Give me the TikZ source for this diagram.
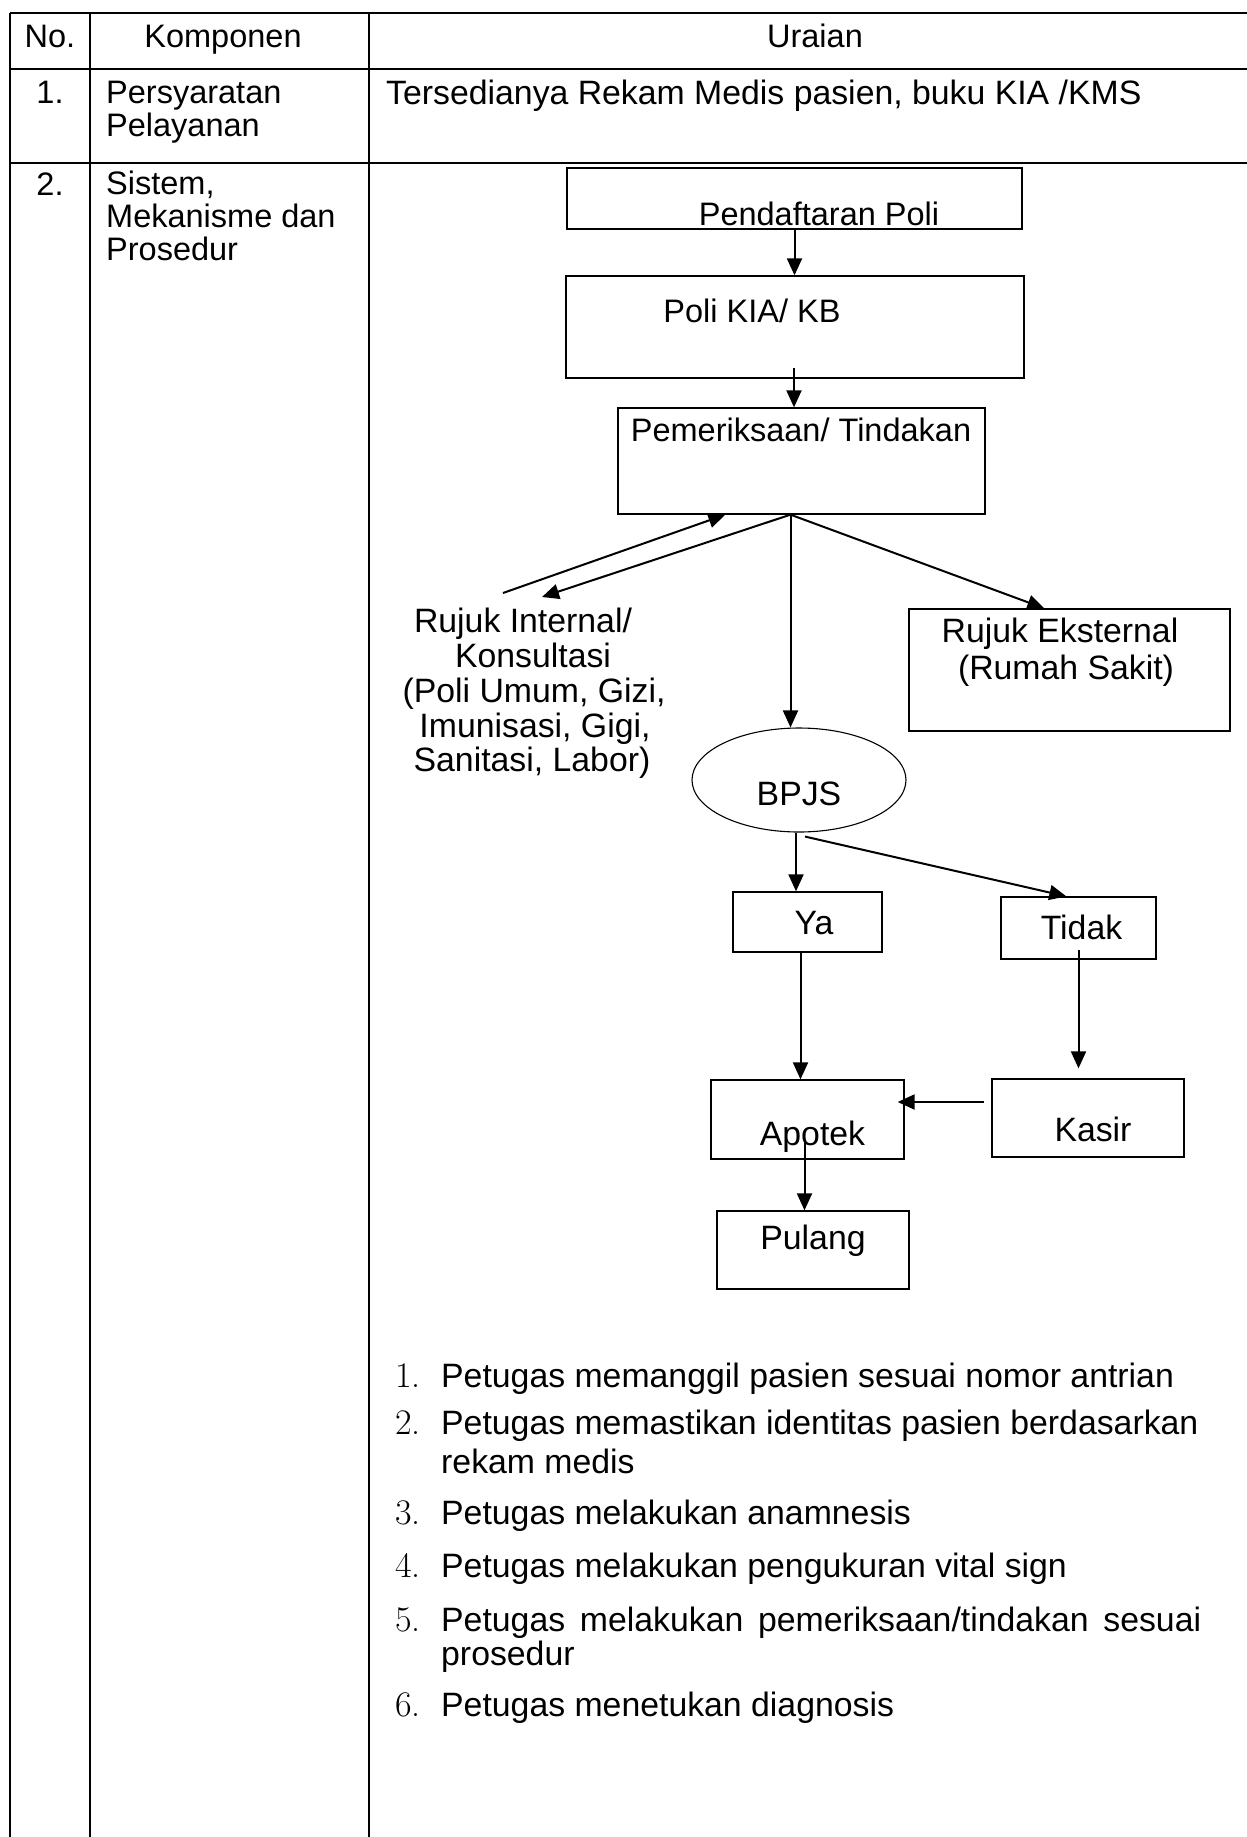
\documentclass[tikz,border=0pt]{standalone}
\usepackage{fontspec}
\setmainfont{Liberation Sans}
\newfontfamily\numfont{Latin Modern Roman}
\usetikzlibrary{arrows.meta,shapes.geometric,calc}
\begin{document}
\begin{tikzpicture}[x=1pt,y=-1pt,
  tline/.style={line width=2pt},
  box/.style={draw, line width=1.3pt, rectangle, inner sep=0pt},
  txt/.style={inner sep=0pt, anchor=base, font=\fontsize{32.5}{34}\selectfont},
  btxt/.style={txt, font=\fontsize{33.8}{35}\selectfont},
  ltxt/.style={txt, anchor=base west},
  bltxt/.style={btxt, anchor=base west},
  numtxt/.style={inner sep=0pt, anchor=base west, font=\fontsize{36}{36}\numfont},
  arr/.style={line width=2pt, -{Triangle[length=17pt,width=15pt]}},
]
\useasboundingbox (0,0) rectangle (1247,1837);
\fill[white] (0,0) rectangle (1247,1837);

% table lines
\draw[tline] (10,13) -- (1247,13);
\draw[tline] (10,69) -- (1247,69);
\draw[tline] (10,163) -- (1247,163);
\draw[tline] (10,13) -- (10,1837);
\draw[tline] (90,13) -- (90,1837);
\draw[tline] (369,13) -- (369,1837);

% header
\node[txt] (hno) at (50,47) {No.};
\node[txt] (hkomp) at (223,47) {Komponen};
\node[txt] (hur) at (815,47) {Uraian};

% row 1
\node[txt] (n1) at (50,103) {1.};
\node[ltxt] (k1a) at (106,103) {Persyaratan};
\node[ltxt] (k1b) at (106,136) {Pelayanan};
\node[bltxt] (u1) at (386,104) {Tersedianya Rekam Medis pasien, buku KIA /KMS};

% row 2
\node[txt] (n2) at (50,195) {2.};
\node[ltxt] (k2a) at (106,194) {Sistem,};
\node[ltxt] (k2b) at (106,227) {Mekanisme dan};
\node[ltxt] (k2c) at (106,260) {Prosedur};

% flowchart boxes
\node[box, minimum width=455pt, minimum height=61pt] (pend) at (794.5,198.5) {};
\node[box, minimum width=458pt, minimum height=102pt] (poli) at (795,327) {};
\node[box, minimum width=367pt, minimum height=106pt] (peme) at (801.5,461) {};
\node[box, minimum width=321pt, minimum height=122pt] (ekst) at (1069.5,670) {};
\node[draw, line width=1.1pt, ellipse, inner sep=0pt, minimum width=214pt, minimum height=104pt] (bpjs) at (799,780) {};
\node[box, minimum width=149pt, minimum height=60pt] (ya) at (807.5,922) {};
\node[box, minimum width=155pt, minimum height=62pt] (tidak) at (1078.5,928) {};
\node[box, minimum width=193pt, minimum height=79pt] (apotek) at (807.5,1119.5) {};
\node[box, minimum width=192pt, minimum height=78pt] (kasir) at (1088,1118) {};
\node[box, minimum width=192pt, minimum height=78pt] (pulang) at (813,1250) {};

% flowchart texts
\node[txt] (tpend) at (819,225) {Pendaftaran Poli};
\node[txt] (tpoli) at (752,322) {Poli KIA/ KB};
\node[txt] (tpeme) at (801,441) {Pemeriksaan/ Tindakan};
\node[btxt] (ri1) at (523,632) {Rujuk Internal/};
\node[btxt] (ri2) at (533,667) {Konsultasi};
\node[btxt] (ri3) at (534,702) {(Poli Umum, Gizi,};
\node[btxt] (ri4) at (535,737) {Imunisasi, Gigi,};
\node[btxt] (ri5) at (532,771) {Sanitasi, Labor)};
\node[btxt] (te1) at (1060,642) {Rujuk Eksternal};
\node[btxt] (te2) at (1066,679) {(Rumah Sakit)};
\node[btxt] (tbpjs) at (799,805) {BPJS};
\node[btxt] (tya) at (814,934) {Ya};
\node[btxt] (ttidak) at (1081.5,939) {Tidak};
\node[btxt] (tapotek) at (812.5,1145) {Apotek};
\node[btxt] (tkasir) at (1093,1141) {Kasir};
\node[btxt] (tpulang) at (813,1249) {Pulang};

% free ends near Rujuk Internal text
\coordinate (rin) at (542,597);
\coordinate (rout) at (503,593);
\coordinate (split) at ([xshift=-11pt]peme.south);

% connectors
\draw[arr] (pend.south) -- (pend.south |- poli.north);
\draw[arr] ([xshift=-1pt,yshift=11pt]poli.south) -- ([xshift=-1pt]poli.south |- peme.north);
\draw[arr] (split) -- (rin);
\draw[arr] (rout) -- ([xshift=108pt]peme.south west);
\draw[arr] (split) -- (split |- bpjs.north);
\draw[arr] (split) -- ([xshift=136pt]ekst.north west);
\draw[arr] ([xshift=-3pt]bpjs.south) -- ([xshift=-3pt]bpjs.south |- ya.north);
\draw[arr] ([xshift=6pt,yshift=-4pt]bpjs.south) -- ([xshift=66pt]tidak.north west);
\draw[arr] ([xshift=-7pt]ya.south) -- ([xshift=-7pt]ya.south |- apotek.north);
\draw[arr] ([yshift=10pt]tidak.south) -- ([yshift=10pt]tidak.south |- kasir.north);
\draw[arr] ([xshift=-7pt,yshift=16pt]kasir.west) -- ([xshift=-7pt,yshift=16pt]kasir.west -| apotek.east);
\draw[arr] ([xshift=-3pt,yshift=19pt]apotek.south) -- ([xshift=-3pt]apotek.south |- pulang.north);

% procedure list
\node[numtxt] (l1n) at (395,1387) {1.};
\node[bltxt] (l1) at (441,1387) {Petugas memanggil pasien sesuai nomor antrian};
\node[numtxt] (l2n) at (395,1434) {2.};
\node[bltxt] (l2a) at (441,1434) {Petugas memastikan identitas pasien berdasarkan};
\node[bltxt] (l2b) at (441,1473) {rekam medis};
\node[numtxt] (l3n) at (395,1524) {3.};
\node[bltxt] (l3) at (441,1524) {Petugas melakukan anamnesis};
\node[numtxt] (l4n) at (395,1577) {4.};
\node[bltxt] (l4) at (441,1577) {Petugas melakukan pengukuran vital sign};
\node[numtxt] (l5n) at (395,1631) {5.};
\node[bltxt] (l5a) at (441,1631) {\makebox[760pt][s]{Petugas melakukan pemeriksaan/tindakan sesuai}};
\node[bltxt] (l5b) at (441,1665) {prosedur};
\node[numtxt] (l6n) at (395,1716) {6.};
\node[bltxt] (l6) at (441,1716) {Petugas menetukan diagnosis};
\end{tikzpicture}
\end{document}
